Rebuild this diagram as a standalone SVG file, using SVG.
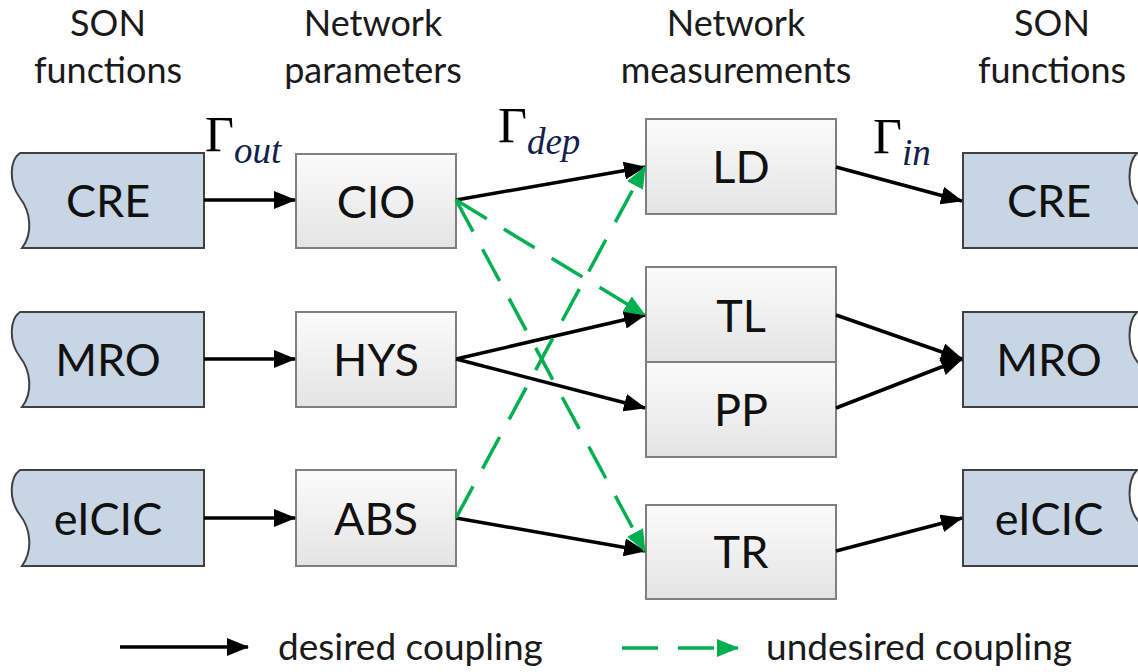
<svg xmlns="http://www.w3.org/2000/svg" width="1138" height="672" viewBox="0 0 1138 672">
<defs>
<linearGradient id="gbox" x1="0" y1="0" x2="0" y2="1">
<stop offset="0" stop-color="#fbfbfb"/>
<stop offset="1" stop-color="#e4e4e4"/>
</linearGradient>
<marker id="ab" markerUnits="userSpaceOnUse" markerWidth="22" markerHeight="18" refX="21" refY="9" orient="auto">
<path d="M0,0 L22,9 L0,18 Z" fill="#000"/>
</marker>
<marker id="ag" markerUnits="userSpaceOnUse" markerWidth="22" markerHeight="18" refX="21" refY="9" orient="auto">
<path d="M0,0 L22,9 L0,18 Z" fill="#00b050"/>
</marker>
</defs>
<style>
.hdr{font-family:Lato,"Liberation Sans",sans-serif;font-size:36px;fill:#1a1a1a;text-anchor:middle}
.lbl{font-family:Lato,"Liberation Sans",sans-serif;font-size:45px;fill:#111;text-anchor:middle}
.leg{font-family:Lato,"Liberation Sans",sans-serif;font-size:37px;fill:#1a1a1a}
.son{fill:#c8d5e5;stroke:#404040;stroke-width:2}
.box{fill:url(#gbox);stroke:#7f7f7f;stroke-width:2}
.g{font-family:"Liberation Serif",serif;font-size:50px;fill:#000}
.gs{font-family:"Liberation Serif",serif;font-style:italic;font-size:37px;fill:#10204a}
.c{stroke:#000;stroke-width:3.5;fill:none;marker-end:url(#ab)}
.u{stroke:#00b050;stroke-width:3.5;fill:none;stroke-dasharray:36 20;marker-end:url(#ag)}
</style>

<g id="headers">
<text class="hdr" x="108" y="36">SON</text>
<text class="hdr" x="108" y="83">functions</text>
<text class="hdr" x="373" y="36">Network</text>
<text class="hdr" x="373" y="83">parameters</text>
<text class="hdr" x="736" y="36">Network</text>
<text class="hdr" x="736" y="83">measurements</text>
<text class="hdr" x="1052" y="36">SON</text>
<text class="hdr" x="1052" y="83">functions</text>
</g>

<g id="gamma-labels">
<text x="205" y="151"><tspan class="g">Γ</tspan><tspan class="gs" dy="12">out</tspan></text>
<text x="498" y="142"><tspan class="g">Γ</tspan><tspan class="gs" dy="12">dep</tspan></text>
<text x="873" y="153"><tspan class="g">Γ</tspan><tspan class="gs" dy="12">in</tspan></text>
</g>

<g id="son-cre-left">
<path class="son" d="M204,153 L20,153 C10,160 8,182 20,198 C31,212 33,234 22,248 L204,248 Z"/>
<text class="lbl" x="108" y="217">CRE</text>
</g>
<g id="son-mro-left">
<path class="son" d="M204,312 L20,312 C10,319 8,341 20,357 C31,371 33,393 22,407 L204,407 Z"/>
<text class="lbl" x="108" y="376">MRO</text>
</g>
<g id="son-eicic-left">
<path class="son" d="M204,470 L20,470 C10,477 8,499 20,515 C31,529 33,551 22,566 L204,566 Z"/>
<text class="lbl" x="108" y="535">eICIC</text>
</g>

<g id="param-cio">
<rect class="box" x="296" y="154" width="160" height="94"/>
<text class="lbl" x="376" y="218">CIO</text>
</g>
<g id="param-hys">
<rect class="box" x="296" y="312" width="160" height="95"/>
<text class="lbl" x="376" y="376">HYS</text>
</g>
<g id="param-abs">
<rect class="box" x="296" y="470" width="160" height="96"/>
<text class="lbl" x="376" y="535">ABS</text>
</g>

<g id="meas-ld">
<rect class="box" x="646" y="119" width="190" height="95"/>
<text class="lbl" x="741" y="183">LD</text>
</g>
<g id="meas-tl">
<rect class="box" x="646" y="267" width="190" height="95"/>
<text class="lbl" x="741" y="332">TL</text>
</g>
<g id="meas-pp">
<rect class="box" x="646" y="362" width="190" height="95"/>
<text class="lbl" x="741" y="426">PP</text>
</g>
<g id="meas-tr">
<rect class="box" x="646" y="505" width="190" height="94"/>
<text class="lbl" x="741" y="568">TR</text>
</g>

<g id="son-cre-right">
<path class="son" d="M963,153 L1137,153 C1128,162 1125,190 1140,206 C1152,220 1160,236 1160,248 L963,248 Z"/>
<text class="lbl" x="1049" y="217">CRE</text>
</g>
<g id="son-mro-right">
<path class="son" d="M963,312 L1137,312 C1128,321 1125,349 1140,365 C1152,379 1160,395 1160,407 L963,407 Z"/>
<text class="lbl" x="1049" y="376">MRO</text>
</g>
<g id="son-eicic-right">
<path class="son" d="M963,470 L1137,470 C1128,479 1125,507 1140,523 C1152,537 1160,553 1160,566 L963,566 Z"/>
<text class="lbl" x="1049" y="535">eICIC</text>
</g>

<g id="connectors">
<line class="c" x1="204" y1="200" x2="295" y2="200"/>
<line class="c" x1="204" y1="359" x2="295" y2="359"/>
<line class="c" x1="204" y1="518" x2="295" y2="518"/>
<line class="c" x1="456" y1="200" x2="645" y2="167"/>
<line class="c" x1="456" y1="359" x2="645" y2="315"/>
<line class="c" x1="456" y1="359" x2="645" y2="408"/>
<line class="c" x1="456" y1="518" x2="645" y2="551"/>
<line class="c" x1="836" y1="167" x2="962" y2="201"/>
<line class="c" x1="836" y1="315" x2="962" y2="359"/>
<line class="c" x1="836" y1="408" x2="962" y2="359"/>
<line class="c" x1="836" y1="551" x2="962" y2="518"/>
<line class="u" x1="456" y1="200" x2="645" y2="315"/>
<line class="u" x1="456" y1="200" x2="645" y2="551"/>
<line class="u" x1="456" y1="518" x2="645" y2="167"/>
</g>

<g id="legend">
<line class="c" x1="120" y1="647" x2="248" y2="647"/>
<text class="leg" x="278" y="660">desired coupling</text>
<line class="u" x1="622" y1="648" x2="738" y2="648"/>
<text class="leg" x="766" y="660">undesired coupling</text>
</g>
</svg>
